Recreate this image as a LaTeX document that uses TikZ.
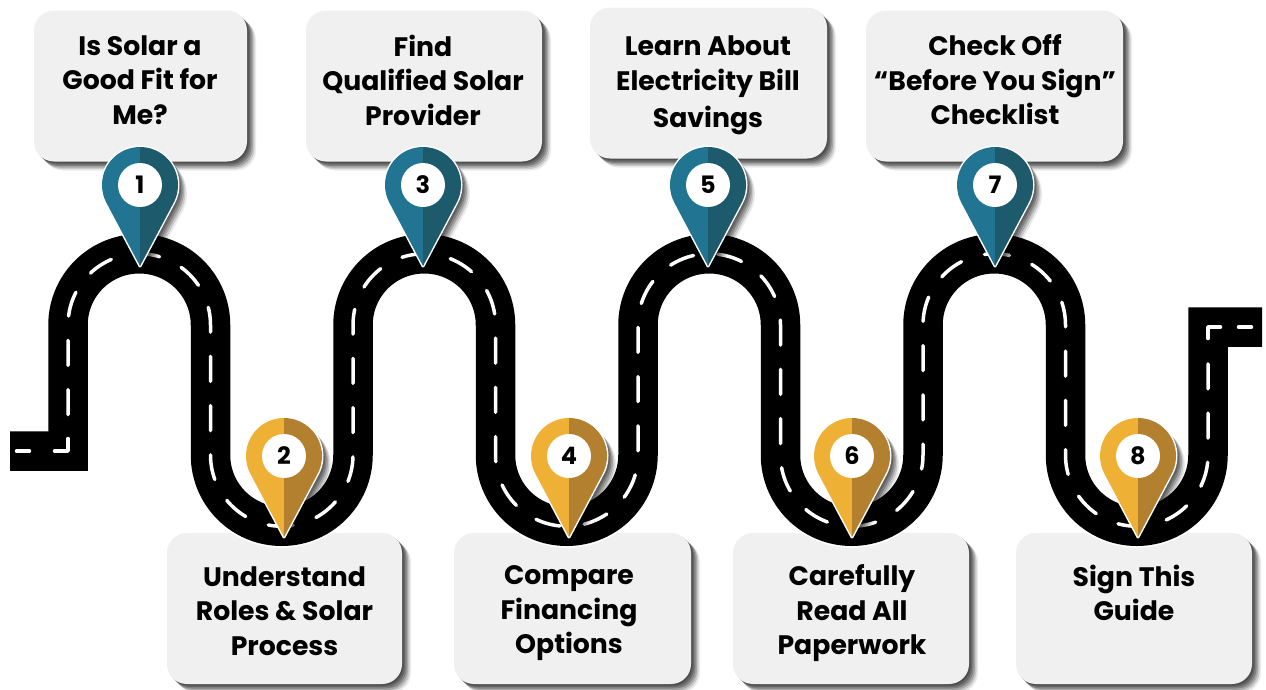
\documentclass[tikz,border=0pt]{standalone}
\usepackage{fontspec}
\setmainfont{Poppins}
\usetikzlibrary{shadows}
\definecolor{boxfill}{HTML}{F0F0F0}
\definecolor{tealL}{HTML}{217592}
\definecolor{tealR}{HTML}{1D5A6B}
\definecolor{goldL}{HTML}{EFB036}
\definecolor{goldR}{HTML}{B38030}
\tikzset{
  softshadow/.style={
    general shadow={fill=black,opacity=.22,shadow xshift=1.5pt,shadow yshift=-1.5pt},
    general shadow={fill=black,opacity=.22,shadow xshift=3pt,shadow yshift=-3pt},
    general shadow={fill=black,opacity=.22,shadow xshift=4.5pt,shadow yshift=-4.5pt},
    general shadow={fill=black,opacity=.18,shadow xshift=6pt,shadow yshift=-6pt},
    general shadow={fill=black,opacity=.14,shadow xshift=7.5pt,shadow yshift=-7.5pt},
    general shadow={fill=black,opacity=.08,shadow xshift=9pt,shadow yshift=-9pt}},
  infobox/.style={rounded corners=20pt,fill=boxfill,softshadow,inner sep=0pt,
    minimum width=#1,anchor=center,minimum height=151pt},
  infotext/.style={align=center,font=\fontsize{26.7}{34.5}\selectfont\bfseries,inner sep=0pt,text=black},
  pinnum/.style={circle,fill=white,minimum size=44pt,inner sep=0pt,
    font=\fontsize{24}{24}\selectfont\bfseries,text=black},
  lanemark/.style={white,line width=3.5pt,line cap=round,line join=round},
}
\newcommand{\pinpath}{(0,81) -- (33.55,17.84) arc[start angle=28,end angle=-208,radius=38] -- cycle}
\newcommand{\mappin}[6]{%
  \begin{scope}[shift={(#2,#3)}]
    \path[softshadow] \pinpath;
    \draw[white,line width=3pt,line join=round] \pinpath;
    \begin{scope}\clip (-45,-45) rectangle (0,90); \fill[#4] \pinpath;\end{scope}
    \begin{scope}\clip (0,-45) rectangle (45,90); \fill[#5] \pinpath;\end{scope}
    \node[pinnum] (#1) at (0,0) {\raisebox{-1pt}{#6}};
  \end{scope}}
\newcommand{\roadmid}{-- (68,325)
  arc[start angle=180,end angle=360,radius=71.25] -- (210.5,455)
  arc[start angle=180,end angle=0,radius=71.25] -- (353,325)
  arc[start angle=180,end angle=360,radius=71.25] -- (495.5,455)
  arc[start angle=180,end angle=0,radius=71.25] -- (638,325)
  arc[start angle=180,end angle=360,radius=71.25] -- (780.5,455)
  arc[start angle=180,end angle=0,radius=71.25] -- (923,325)
  arc[start angle=180,end angle=360,radius=71.25] -- (1065.5,455)
  arc[start angle=180,end angle=0,radius=71.25]}
\begin{document}
\begin{tikzpicture}[x=1pt,y=-1pt]
\useasboundingbox (0,0) rectangle (1266,689);
% boxes
\node[infobox=213pt] (b1) at (140.5,86) {};
\node[infobox=236pt] (b3) at (424,86) {};
\node[infobox=237pt] (b5) at (708.5,83) {};
\node[infobox=257pt] (b7) at (994.5,86) {};
\node[infobox=235pt] (b2) at (284.5,608.5) {};
\node[infobox=237pt] (b4) at (572.5,608.5) {};
\node[infobox=236pt] (b6) at (851,608.5) {};
\node[infobox=236pt] (b8) at (1134,608.5) {};
% road
\draw[white,line width=43pt,miter limit=10] (10,451) -- (68,451) \roadmid -- (1208,327) -- (1262,327);
\draw[black,line width=39.5pt,miter limit=10] (10,451) -- (68,451) \roadmid -- (1208,327) -- (1262,327);
% lane marks
\draw[lanemark] (16.5,451) -- (29.5,451);
\draw[lanemark] (54.5,451) -- (68,451) -- (68,438.5);
\draw[lanemark,dash pattern=on 25pt off 24.25pt] (68,414.5) \roadmid -- (1208,363);
\draw[lanemark] (1208,338.5) -- (1208,327) -- (1220.5,327);
\draw[lanemark] (1238.5,327) -- (1251.5,327);
% pins
\mappin{p1}{140}{185}{tealL}{tealR}{1}
\mappin{p3}{423}{185}{tealL}{tealR}{3}
\mappin{p5}{708}{185}{tealL}{tealR}{5}
\mappin{p7}{995}{185}{tealL}{tealR}{7}
\mappin{p2}{284}{456}{goldL}{goldR}{2}
\mappin{p4}{569}{456}{goldL}{goldR}{4}
\mappin{p6}{852}{456}{goldL}{goldR}{6}
\mappin{p8}{1138}{456}{goldL}{goldR}{8}
% labels
\node[infotext] (t1) at (140,80) {Is Solar a\\Good Fit for\\Me?};
\node[infotext] (t3) at (423,80) {Find\\Qualified Solar\\Provider};
\node[infotext] (t5) at (708,85.5) {Learn About\\Electricity Bill\\[3pt]Savings};
\node[infotext] (t7) at (995,80) {Check Off\\“Before You Sign”\\Checklist};
\node[infotext] (t2) at (284.5,611) {Understand\\Roles \& Solar\\Process};
\node[infotext] (t4) at (569,613.5) {Compare\\Financing\\Options};
\node[infotext] (t6) at (852,613.5) {Carefully\\Read All\\Paperwork};
\node[infotext] (t8) at (1134,593) {Sign This\\Guide};
\end{tikzpicture}
\end{document}
